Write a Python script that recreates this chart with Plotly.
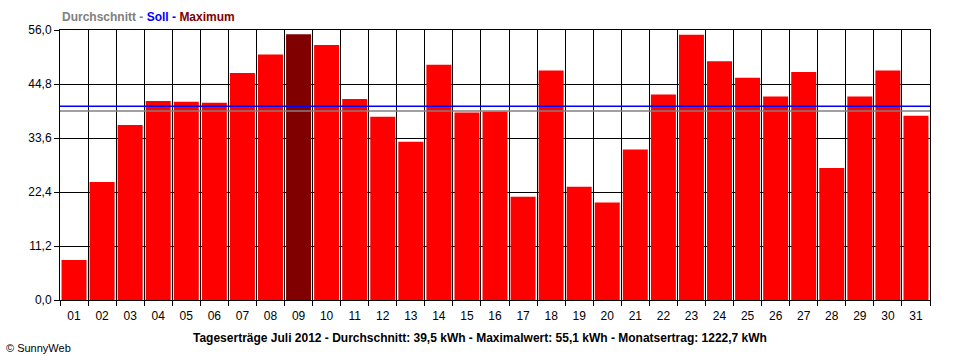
import plotly.graph_objects as go

days = [f"{d:02d}" for d in range(1, 32)]
yields = [8.3, 24.5, 36.3, 41.3, 41.1, 40.9, 47.1, 50.9, 55.1, 52.9,
          41.7, 38.0, 32.8, 48.8, 38.9, 39.1, 21.4, 47.6, 23.5, 20.2,
          31.2, 42.6, 55.0, 49.5, 46.1, 42.2, 47.3, 27.4, 42.2, 47.6, 38.2]
average = 39.2
target = 40.2
y_ticks = [0.0, 11.2, 22.4, 33.6, 44.8, 56.0]

max_val = max(yields)
colors = ["#800000" if v == max_val else "#FF0000" for v in yields]

FONT = "Liberation Sans, Arial, sans-serif"

fig = go.Figure()
fig.add_trace(go.Bar(x=days, y=yields, marker=dict(color=colors, line=dict(width=0)),
                     hoverinfo="x+y"))

fig.add_shape(type="line", xref="paper", x0=0, x1=1, yref="y", y0=average, y1=average,
              line=dict(color="#808080", width=1.5), layer="above")
fig.add_shape(type="line", xref="paper", x0=0, x1=1, yref="y", y0=target, y1=target,
              line=dict(color="#0000FF", width=1.5), layer="above")

fig.update_layout(
    width=960, height=360,
    margin=dict(l=60, r=30, t=30, b=60),
    paper_bgcolor="white", plot_bgcolor="white",
    separators=",.",
    bargap=0.11,
    showlegend=False,
    font=dict(family=FONT, size=12, color="black"),
    xaxis=dict(
        type="category", tickson="boundaries", showgrid=True, gridcolor="black", gridwidth=1,
        showline=True, linecolor="black", linewidth=1, mirror=True,
        ticks="outside", ticklen=5, tickcolor="black", ticklabelstandoff=5,
        tickfont=dict(family=FONT, size=12, color="black"),
    ),
    yaxis=dict(
        range=[0, 56], tickvals=y_ticks, tickformat=".1f", showgrid=True, gridcolor="black",
        gridwidth=1, showline=True, linecolor="black", linewidth=1, mirror=True,
        ticks="outside", ticklen=5, tickcolor="black", zeroline=False,
        tickfont=dict(family=FONT, size=12, color="black"),
    ),
    annotations=[
        dict(xref="paper", yref="paper", x=0, y=1, xanchor="left", yanchor="bottom", yshift=4,
             showarrow=False, align="left",
             text="<b><span style='color:#808080'>Durchschnitt -</span> "
                  "<span style='color:#0000FF'>Soll -</span> "
                  "<span style='color:#800000'>Maximum</span></b>",
             font=dict(family=FONT, size=12)),
        dict(xref="paper", yref="paper", x=0.5, y=0, xanchor="center", yanchor="top",
             xshift=-15, yshift=-29, showarrow=False,
             text="<b>Tageserträge Juli 2012 - Durchschnitt: 39,5 kWh - Maximalwert: 55,1 kWh - "
                  "Monatsertrag: 1222,7 kWh</b>",
             font=dict(family=FONT, size=12, color="black")),
        dict(xref="paper", yref="paper", x=0, y=0, xanchor="left", yanchor="top",
             xshift=-56, yshift=-40, showarrow=False, text="© SunnyWeb",
             font=dict(family=FONT, size=11, color="black")),
    ],
)

fig.write_html("out.html", config={"displayModeBar": False},
               post_script="document.body.style.margin='0px';document.body.style.overflow='hidden';")
